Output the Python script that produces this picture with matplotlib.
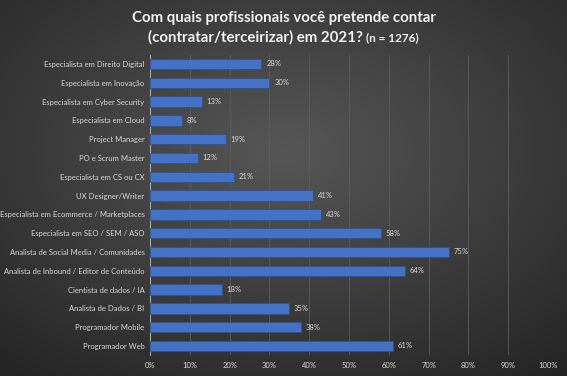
import numpy as np
import matplotlib.pyplot as plt

# dados do gráfico (de cima para baixo)
categorias = [
    "Especialista em Direito Digital",
    "Especialista em Inovação",
    "Especialista em Cyber Security",
    "Especialista em Cloud",
    "Project Manager",
    "PO e Scrum Master",
    "Especialista em CS ou CX",
    "UX Designer/Writer",
    "Especialista em Ecommerce / Marketplaces",
    "Especialista em SEO / SEM / ASO",
    "Analista de Social Media / Comunidades",
    "Analista de Inbound / Editor de Conteúdo",
    "Cientista de dados / IA",
    "Analista de Dados / BI",
    "Programador Mobile",
    "Programador Web",
]
percentuais = [28, 30, 13, 8, 19, 12, 21, 41, 43, 58, 75, 64, 18, 35, 38, 61]
ticks_x = [0, 10, 20, 30, 40, 50, 60, 70, 80, 90, 100]

plt.rcParams['font.family'] = ['Lato', 'DejaVu Sans']

fig = plt.figure(figsize=(5.67, 3.76), dpi=100)

# fundo com gradiente radial escuro
bg = fig.add_axes([0, 0, 1, 1])
yy, xx = np.mgrid[-1:1:300j, -1:1:450j]
r = np.sqrt(xx ** 2 + (yy + 0.2) ** 2) / np.sqrt(2)
shade = 0.34 - 0.18 * r
bg.imshow(np.dstack([shade, shade, shade]), aspect='auto', extent=[0, 1, 0, 1])
bg.axis('off')

ax = fig.add_axes([0.2646, 0.0548, 0.702, 0.80])
ax.patch.set_alpha(0)

y = np.arange(len(categorias))
ax.barh(y, percentuais, height=0.55, color='#4472c4', edgecolor='#2f528f',
        linewidth=0.6, zorder=3)

for yi, v in zip(y, percentuais):
    ax.text(v + 1.2, yi, f"{v}%", va='center', ha='left', fontsize=5.5,
            color='#d9d9d9')

ax.set_yticks(y)
ax.set_yticklabels(categorias)
ax.set_ylim(len(categorias) - 0.5, -0.5)
ax.set_xlim(0, 100)
ax.set_xticks(ticks_x)
ax.set_xticklabels([f"{t}%" for t in ticks_x])
ax.tick_params(axis='both', length=0, labelsize=5.5, colors='#d9d9d9')
ax.tick_params(axis='y', pad=4)
ax.tick_params(axis='x', pad=5)

ax.grid(axis='x', color='#5e5e5e', linewidth=0.6, zorder=0)
for s in ['top', 'right', 'bottom']:
    ax.spines[s].set_visible(False)
ax.spines['left'].set_color('#a6a6a6')
ax.spines['left'].set_linewidth(0.8)

# título em duas linhas, a segunda com "(n = 1276)" menor
fig.text(0.5, 0.952, "Com quais profissionais você pretende contar",
         ha='center', va='center', fontsize=10.8, fontweight='bold', color='#f2f2f2')
t1 = fig.text(0, 0.9, "(contratar/terceirizar) em 2021? ", ha='left', va='center',
              fontsize=10.8, fontweight='bold', color='#f2f2f2')
t2 = fig.text(0, 0.9, "(n = 1276)", ha='left', va='center', fontsize=8.5,
              fontweight='bold', color='#f2f2f2')
fig.canvas.draw()
r = fig.canvas.get_renderer()
w1 = t1.get_window_extent(r).width / fig.bbox.width
w2 = t2.get_window_extent(r).width / fig.bbox.width
x0 = 0.5 - (w1 + w2) / 2
t1.set_x(x0)
t2.set_x(x0 + w1)

plt.savefig('out.png', dpi=100)
